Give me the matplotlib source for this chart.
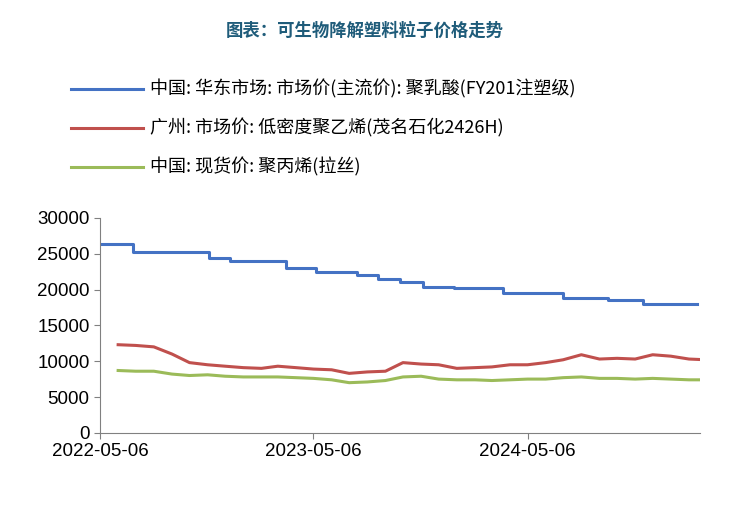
import numpy as np
import pandas as pd
import matplotlib.pyplot as plt
import matplotlib.dates as mdates

plt.rcParams['font.family'] = ['Noto Sans CJK SC']

# PLA step series: change dates and levels
pla_dates = ['2022-05-06', '2022-07-01', '2022-11-08', '2022-12-15', '2023-03-20',
             '2023-05-10', '2023-07-20', '2023-08-25', '2023-10-01', '2023-11-10',
             '2024-01-01', '2024-03-25', '2024-07-05', '2024-09-20', '2024-11-20',
             '2025-02-20']
pla_vals = [26400, 25200, 24400, 24000, 23000, 22500, 22000, 21500, 21000, 20300,
            20200, 19500, 18800, 18500, 18000, 18000]

# monthly series
month_dates = pd.date_range('2022-05-06', periods=34, freq='MS') + pd.Timedelta(days=5)
ldpe_vals = [12300, 12200, 12000, 11000, 9800, 9500, 9300, 9100, 9000, 9300, 9100, 8900,
             8800, 8300, 8500, 8600, 9800, 9600, 9500, 9000, 9100, 9200, 9500, 9500,
             9800, 10200, 10900, 10300, 10400, 10300, 10900, 10700, 10300, 10200]
pp_vals = [8700, 8600, 8600, 8200, 8000, 8100, 7900, 7800, 7800, 7800, 7700, 7600,
           7400, 7000, 7100, 7300, 7800, 7900, 7500, 7400, 7400, 7300, 7400, 7500,
           7500, 7700, 7800, 7600, 7600, 7500, 7600, 7500, 7400, 7400]
labels = ['中国: 华东市场: 市场价(主流价): 聚乳酸(FY201注塑级)',
          '广州: 市场价: 低密度聚乙烯(茂名石化2426H)',
          '中国: 现货价: 聚丙烯(拉丝)']

fig = plt.figure(figsize=(7.3, 5.08), dpi=100)
ax = fig.add_axes([0.137, 0.148, 0.822, 0.423])
l1, = ax.plot(pd.to_datetime(pla_dates), pla_vals, drawstyle='steps-post', color='#4472C4', lw=2.2)
l2, = ax.plot(month_dates, ldpe_vals, color='#C0504D', lw=2.2)
l3, = ax.plot(month_dates, pp_vals, color='#9BBB59', lw=2.2)

ax.set_ylim(0, 30000)
ax.set_yticks(range(0, 30001, 5000))
ax.set_xlim(pd.Timestamp('2022-05-06'), pd.Timestamp('2025-02-25'))
ax.set_xticks(pd.to_datetime(['2022-05-06', '2023-05-06', '2024-05-06']))
ax.xaxis.set_major_formatter(mdates.DateFormatter('%Y-%m-%d'))
for s in ['top', 'right']:
    ax.spines[s].set_visible(False)
for s in ['left', 'bottom']:
    ax.spines[s].set_color('#808080')
ax.tick_params(labelsize=13.5, color='#808080', length=4)
for t in ax.get_xticklabels() + ax.get_yticklabels():
    t.set_fontfamily('Liberation Sans')

fig.text(0.5, 0.93, '图表：可生物降解塑料粒子价格走势', ha='center', fontsize=12.5,
         color='#1F5C7A', fontweight='bold')
fig.legend([l1, l2, l3], labels, loc='upper left', bbox_to_anchor=(0.075, 0.875),
           frameon=False, fontsize=13, handlelength=4.0, labelspacing=1.1,
           handletextpad=0.4)
fig.savefig('out.png', dpi=100)
